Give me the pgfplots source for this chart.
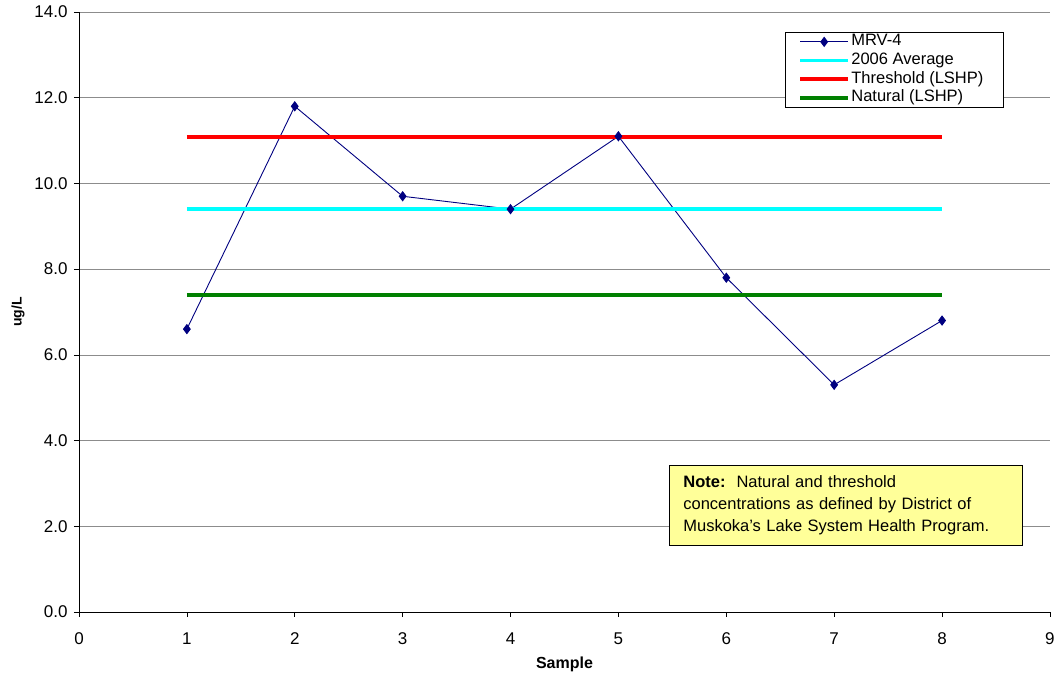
\documentclass[border=0pt]{standalone}
\usepackage{pgfplots}
\pgfplotsset{compat=1.18}
\usepackage{fontspec}
\setmainfont{Liberation Sans}
\definecolor{navy}{HTML}{000080}
\definecolor{avgc}{HTML}{00FFFF}
\definecolor{thr}{HTML}{FF0000}
\definecolor{nat}{HTML}{008000}
\definecolor{noteY}{HTML}{FFFF99}
\begin{document}
\begin{tikzpicture}
\begin{axis}[
  at={(0,0)}, anchor=origin,
  scale only axis, width=971pt, height=600pt,
  xmin=0, xmax=9, ymin=0, ymax=14,
  axis lines*=left,
  axis line style={black, line width=0.8pt},
  xtick={0,1,...,9}, ytick={0,2,...,14},
  tick align=outside, major tick length=5pt,
  tick style={black, line width=0.6pt},
  ymajorgrids, grid style={gray!90, line width=0.6pt},
  y tick label style={/pgf/number format/fixed, /pgf/number format/fixed zerofill, /pgf/number format/precision=1},
  /pgf/number format/assume math mode=true,
  xticklabel style={font=\fontsize{17}{19}\selectfont, yshift=-12pt},
  yticklabel style={font=\fontsize{17}{19}\selectfont, xshift=-3pt},
  xlabel={\textbf{Sample}}, ylabel={\textbf{ug/L}},
  xlabel style={font=\fontsize{16}{18}\selectfont, yshift=-6pt},
  ylabel style={font=\fontsize{14}{16}\selectfont, yshift=3pt},
  legend style={at={(rel axis cs:0.727,0.967)}, anchor=north west,
    draw=black, line width=0.6pt, font=\fontsize{16.5}{18}\selectfont,
    row sep=0pt, inner xsep=4pt, inner ysep=0.5pt, column sep=1pt,
    nodes={inner sep=0.3pt, text height=13pt, text depth=5pt},
    cells={anchor=west}},
  legend cell align=left,
  legend image code/.code={\path[draw=none] (0pt,0pt); \draw[mark repeat=2,mark phase=2,#1] plot coordinates {(11pt,0pt) (35pt,0pt) (59pt,0pt)};},
]
\addplot[navy, line width=0.9pt, mark=diamond*, mark size=4.5pt, mark options={fill=navy, draw=navy}]
  coordinates {(1,6.6) (2,11.8) (3,9.7) (4,9.4) (5,11.1) (6,7.8) (7,5.3) (8,6.8)};
\addlegendentry{MRV-4}
\addplot[avgc, line width=3.8pt] coordinates {(1,9.4) (8,9.4)};
\addlegendentry{2006 Average}
\addplot[thr, line width=3.8pt] coordinates {(1,11.08) (8,11.08)};
\addlegendentry{Threshold (LSHP)\rule{16pt}{0pt}}
\addplot[nat, line width=3.8pt] coordinates {(1,7.4) (8,7.4)};
\addlegendentry{Natural (LSHP)}
\node[anchor=north west, draw=black, line width=0.8pt, fill=noteY,
  minimum width=353pt, minimum height=80pt, text width=325pt, inner xsep=14pt, inner ysep=4pt, align=left,
  font=\fontsize{16.5}{22}\selectfont]
  at (rel axis cs:0.6076,0.245)
  {\rule{0pt}{5pt}\textbf{Note:}\ \ Natural and threshold\\concentrations as defined by District of\\Muskoka's Lake System Health Program.};
\end{axis}
\useasboundingbox (-79pt,-69pt) rectangle (979pt,612pt);
\end{tikzpicture}
\end{document}
